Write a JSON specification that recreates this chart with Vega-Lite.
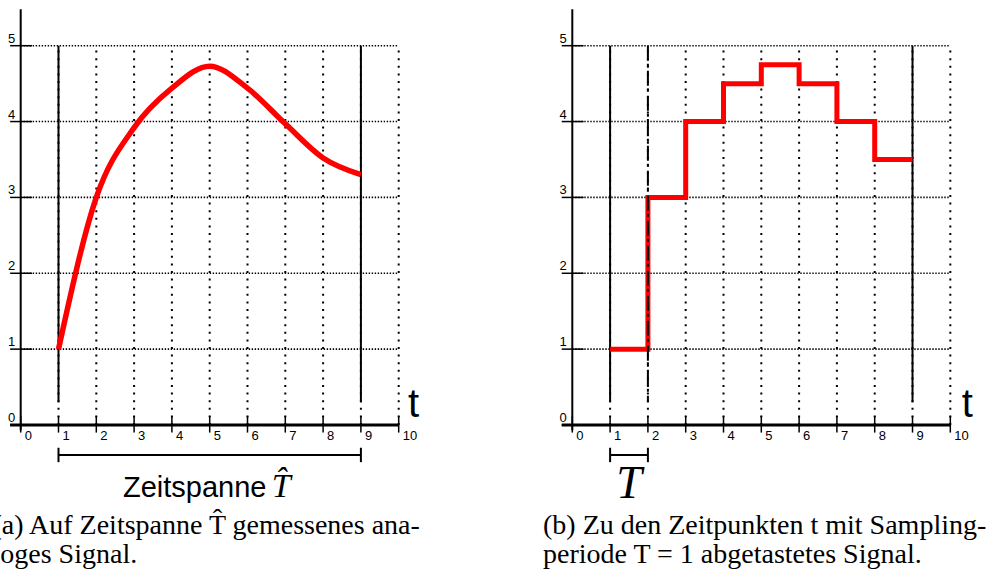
{
  "$schema": "https://vega.github.io/schema/vega-lite/v6.json",
  "width": 999,
  "height": 579,
  "autosize": {"type": "none"},
  "padding": 0,
  "background": "white",
  "config": {"view": {"stroke": null}},
  "datasets": {
    "xt": [{"v":0},{"v":1},{"v":2},{"v":3},{"v":4},{"v":5},{"v":6},{"v":7},{"v":8},{"v":9},{"v":10}],
    "yt": [{"v":0},{"v":1},{"v":2},{"v":3},{"v":4},{"v":5}],
    "signal": [{"t":1,"s":1},{"t":2,"s":3.0},{"t":3,"s":3.92},{"t":4,"s":4.44},{"t":5,"s":4.73},{"t":6,"s":4.44},{"t":7,"s":3.97},{"t":8,"s":3.52},{"t":9,"s":3.3}],
    "samples": [{"t":1,"s":1},{"t":2,"s":3},{"t":3,"s":4},{"t":4,"s":4.5},{"t":5,"s":4.75},{"t":6,"s":4.5},{"t":7,"s":4},{"t":8,"s":3.5},{"t":9,"s":3.5}]
  },
  "resolve": {"scale": {"x": "independent"}},
  "layer": [
    {
      "layer": [
        {"data":{"name":"yt"},"transform":[{"filter":"datum.v >= 1"}],
         "mark":{"type":"rule","strokeDash":[1.4,1.6],"strokeWidth":1.6,"color":"black"},
         "encoding":{"x":{"datum":0,"type":"quantitative","scale":{"domain":[-0.5476,25.881],"nice":false,"zero":false},"axis":null},"x2":{"datum":10},
                     "y":{"field":"v","type":"quantitative","scale":{"domain":[-2.0301,5.6024],"nice":false,"zero":false},"axis":null}}},
        {"data":{"name":"xt"},"transform":[{"filter":"datum.v >= 1"}],
         "mark":{"type":"rule","strokeDash":[2,5.6],"strokeWidth":2,"color":"black"},
         "encoding":{"x":{"field":"v","type":"quantitative","axis":null},
                     "y":{"datum":0,"type":"quantitative","axis":null},"y2":{"datum":5}}},
        {"data":{"name":"yt"},"transform":[{"filter":"datum.v == 0"}],
         "mark":{"type":"rule","strokeWidth":3,"color":"black"},
         "encoding":{"x":{"datum":-0.28,"type":"quantitative","axis":null},"x2":{"datum":10},
                     "y":{"field":"v","type":"quantitative","axis":null}}},
        {"data":{"name":"xt"},"transform":[{"filter":"datum.v == 0"}],
         "mark":{"type":"rule","strokeWidth":2,"color":"black"},
         "encoding":{"x":{"field":"v","type":"quantitative","axis":null},
                     "y":{"datum":-0.07,"type":"quantitative","axis":null},"y2":{"datum":5.48}}},
        {"data":{"name":"xt"},
         "mark":{"type":"rule","strokeWidth":1.5,"color":"black"},
         "encoding":{"x":{"field":"v","type":"quantitative","axis":null},
                     "y":{"datum":-0.1,"type":"quantitative","axis":null},"y2":{"datum":0.12}}},
        {"data":{"name":"yt"},
         "mark":{"type":"rule","strokeWidth":1.5,"color":"black"},
         "encoding":{"x":{"datum":-0.28,"type":"quantitative","axis":null},"x2":{"datum":0.3},
                     "y":{"field":"v","type":"quantitative","axis":null}}},
        {"data":{"name":"xt"},
         "mark":{"type":"text","align":"left","baseline":"top","dx":4,"dy":5,"font":"Liberation Sans","fontSize":13,"color":"black"},
         "encoding":{"x":{"field":"v","type":"quantitative","axis":null},
                     "y":{"datum":0,"type":"quantitative","axis":null},"text":{"field":"v","type":"quantitative"}}},
        {"data":{"name":"yt"},
         "mark":{"type":"text","align":"left","baseline":"alphabetic","dx":-12.7,"dy":-3,"font":"Liberation Sans","fontSize":13,"color":"black"},
         "encoding":{"x":{"datum":0,"type":"quantitative","axis":null},
                     "y":{"field":"v","type":"quantitative","axis":null},"text":{"field":"v","type":"quantitative"}}},
        {"data":{"name":"xt"},"transform":[{"filter":"datum.v == 1 || datum.v == 9"}],
         "mark":{"type":"rule","strokeWidth":2,"color":"black"},
         "encoding":{"x":{"field":"v","type":"quantitative","axis":null},
                     "y":{"datum":0.3,"type":"quantitative","axis":null},"y2":{"datum":5}}},
        {"data":{"name":"signal"},
         "mark":{"type":"line","interpolate":"monotone","strokeWidth":5.5,"color":"#ff0000"},
         "encoding":{"x":{"field":"t","type":"quantitative","axis":null},
                     "y":{"field":"s","type":"quantitative","axis":null}}},
        {"data":{"name":"xt"},"transform":[{"filter":"datum.v == 1"}],
         "mark":{"type":"rule","strokeWidth":2,"color":"black"},
         "encoding":{"x":{"field":"v","type":"quantitative","axis":null},"x2":{"datum":9},
                     "y":{"datum":-0.395,"type":"quantitative","axis":null}}},
        {"data":{"name":"xt"},"transform":[{"filter":"datum.v == 1 || datum.v == 9"}],
         "mark":{"type":"rule","strokeWidth":2,"color":"black"},
         "encoding":{"x":{"field":"v","type":"quantitative","axis":null},
                     "y":{"datum":-0.30,"type":"quantitative","axis":null},"y2":{"datum":-0.49}}},
        {"data":{"values":[{"label":"t"}]},
         "mark":{"type":"text","align":"left","baseline":"alphabetic","font":"Liberation Sans","fontSize":40,"color":"black"},
         "encoding":{"x":{"datum":10.246,"type":"quantitative","axis":null},"y":{"datum":0.109,"type":"quantitative","axis":null},"text":{"field":"label"}}},
        {"data":{"values":[{"label":"Zeitspanne"}]},
         "mark":{"type":"text","align":"left","baseline":"alphabetic","font":"Liberation Sans","fontSize":29,"color":"black"},
         "encoding":{"x":{"datum":2.706,"type":"quantitative","axis":null},"y":{"datum":-0.945,"type":"quantitative","axis":null},"text":{"field":"label"}}},
        {"data":{"values":[{"label":"T̂"}]},
         "mark":{"type":"text","align":"left","baseline":"alphabetic","font":"Liberation Serif","fontStyle":"italic","fontSize":34,"color":"black"},
         "encoding":{"x":{"datum":6.64,"type":"quantitative","axis":null},"y":{"datum":-0.945,"type":"quantitative","axis":null},"text":{"field":"label"}}},
        {"data":{"values":[{"label":["(a) Auf Zeitspanne T̂ gemessenes ana-","loges Signal."]}]},
         "mark":{"type":"text","align":"left","baseline":"alphabetic","font":"Liberation Serif","fontSize":28,"lineHeight":28.5,"color":"black"},
         "encoding":{"x":{"datum":-0.746,"type":"quantitative","axis":null},
                     "y":{"datum":-1.437,"type":"quantitative","axis":null},
                     "text":{"field":"label"}}}
      ]
    },
    {
      "layer": [
        {"data":{"name":"yt"},"transform":[{"filter":"datum.v >= 1"}],
         "mark":{"type":"rule","strokeDash":[1.4,1.6],"strokeWidth":1.6,"color":"black"},
         "encoding":{"x":{"datum":0,"type":"quantitative","scale":{"domain":[-15.140,11.288],"nice":false,"zero":false},"axis":null},"x2":{"datum":10},
                     "y":{"field":"v","type":"quantitative","axis":null}}},
        {"data":{"name":"xt"},"transform":[{"filter":"datum.v >= 1"}],
         "mark":{"type":"rule","strokeDash":[2,5.6],"strokeWidth":2,"color":"black"},
         "encoding":{"x":{"field":"v","type":"quantitative","axis":null},
                     "y":{"datum":0,"type":"quantitative","axis":null},"y2":{"datum":5}}},
        {"data":{"name":"yt"},"transform":[{"filter":"datum.v == 0"}],
         "mark":{"type":"rule","strokeWidth":3,"color":"black"},
         "encoding":{"x":{"datum":-0.28,"type":"quantitative","axis":null},"x2":{"datum":10},
                     "y":{"field":"v","type":"quantitative","axis":null}}},
        {"data":{"name":"xt"},"transform":[{"filter":"datum.v == 0"}],
         "mark":{"type":"rule","strokeWidth":2,"color":"black"},
         "encoding":{"x":{"field":"v","type":"quantitative","axis":null},
                     "y":{"datum":-0.07,"type":"quantitative","axis":null},"y2":{"datum":5.48}}},
        {"data":{"name":"xt"},
         "mark":{"type":"rule","strokeWidth":1.5,"color":"black"},
         "encoding":{"x":{"field":"v","type":"quantitative","axis":null},
                     "y":{"datum":-0.1,"type":"quantitative","axis":null},"y2":{"datum":0.12}}},
        {"data":{"name":"yt"},
         "mark":{"type":"rule","strokeWidth":1.5,"color":"black"},
         "encoding":{"x":{"datum":-0.28,"type":"quantitative","axis":null},"x2":{"datum":0.3},
                     "y":{"field":"v","type":"quantitative","axis":null}}},
        {"data":{"name":"xt"},
         "mark":{"type":"text","align":"left","baseline":"top","dx":4,"dy":5,"font":"Liberation Sans","fontSize":13,"color":"black"},
         "encoding":{"x":{"field":"v","type":"quantitative","axis":null},
                     "y":{"datum":0,"type":"quantitative","axis":null},"text":{"field":"v","type":"quantitative"}}},
        {"data":{"name":"yt"},
         "mark":{"type":"text","align":"left","baseline":"alphabetic","dx":-12.7,"dy":-3,"font":"Liberation Sans","fontSize":13,"color":"black"},
         "encoding":{"x":{"datum":0,"type":"quantitative","axis":null},
                     "y":{"field":"v","type":"quantitative","axis":null},"text":{"field":"v","type":"quantitative"}}},
        {"data":{"name":"xt"},"transform":[{"filter":"datum.v == 1 || datum.v == 9"}],
         "mark":{"type":"rule","strokeWidth":2,"color":"black"},
         "encoding":{"x":{"field":"v","type":"quantitative","axis":null},
                     "y":{"datum":0.3,"type":"quantitative","axis":null},"y2":{"datum":5}}},
        {"data":{"name":"samples"},
         "mark":{"type":"line","interpolate":"step-after","strokeWidth":5,"color":"#ff0000"},
         "encoding":{"x":{"field":"t","type":"quantitative","axis":null},
                     "y":{"field":"s","type":"quantitative","axis":null}}},
        {"data":{"name":"xt"},"transform":[{"filter":"datum.v == 2"}],
         "mark":{"type":"rule","strokeWidth":2,"color":"black","strokeDash":[15,3,3,4]},
         "encoding":{"x":{"field":"v","type":"quantitative","axis":null},
                     "y":{"datum":5,"type":"quantitative","axis":null},"y2":{"datum":0.3}}},
        {"data":{"name":"xt"},"transform":[{"filter":"datum.v == 1"}],
         "mark":{"type":"rule","strokeWidth":2,"color":"black"},
         "encoding":{"x":{"field":"v","type":"quantitative","axis":null},"x2":{"datum":2},
                     "y":{"datum":-0.395,"type":"quantitative","axis":null}}},
        {"data":{"name":"xt"},"transform":[{"filter":"datum.v == 1 || datum.v == 2"}],
         "mark":{"type":"rule","strokeWidth":2,"color":"black"},
         "encoding":{"x":{"field":"v","type":"quantitative","axis":null},
                     "y":{"datum":-0.30,"type":"quantitative","axis":null},"y2":{"datum":-0.49}}},
        {"data":{"values":[{"label":"t"}]},
         "mark":{"type":"text","align":"left","baseline":"alphabetic","font":"Liberation Sans","fontSize":40,"color":"black"},
         "encoding":{"x":{"datum":10.30,"type":"quantitative","axis":null},"y":{"datum":0.109,"type":"quantitative","axis":null},"text":{"field":"label"}}},
        {"data":{"values":[{"label":"T"}]},
         "mark":{"type":"text","align":"center","baseline":"alphabetic","font":"Liberation Serif","fontStyle":"italic","fontSize":46,"color":"black"},
         "encoding":{"x":{"datum":1.5,"type":"quantitative","axis":null},"y":{"datum":-0.962,"type":"quantitative","axis":null},"text":{"field":"label"}}},
        {"data":{"values":[{"label":["(b) Zu den Zeitpunkten t mit Sampling-","periode T = 1 abgetastetes Signal."]}]},
         "mark":{"type":"text","align":"left","baseline":"alphabetic","font":"Liberation Serif","fontSize":28,"lineHeight":28.5,"color":"black"},
         "encoding":{"x":{"datum":-0.775,"type":"quantitative","axis":null},
                     "y":{"datum":-1.437,"type":"quantitative","axis":null},
                     "text":{"field":"label"}}}
      ]
    }
  ]
}
